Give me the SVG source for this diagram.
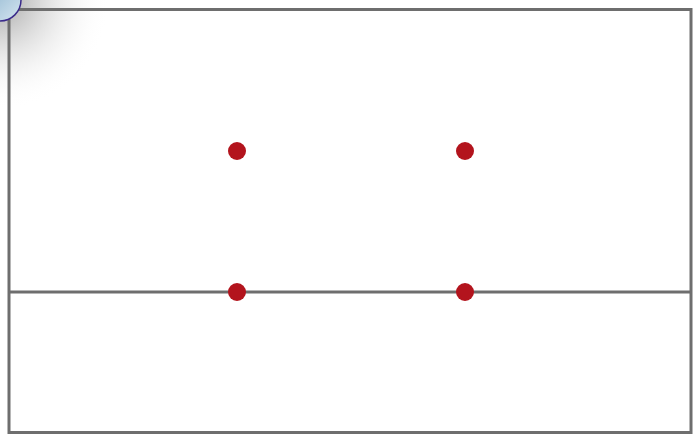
<svg xmlns="http://www.w3.org/2000/svg" width="693" height="435" viewBox="0 0 693 435">
  <defs>
    <radialGradient id="shade" cx="0" cy="0" r="1" gradientUnits="userSpaceOnUse" gradientTransform="translate(0 0) scale(110 110)">
      <stop offset="0" stop-color="#9a9a9a" stop-opacity="0.9"/>
      <stop offset="0.45" stop-color="#d0d0d0" stop-opacity="0.6"/>
      <stop offset="1" stop-color="#ffffff" stop-opacity="0"/>
    </radialGradient>
    <linearGradient id="curl" x1="0" y1="0" x2="1" y2="1">
      <stop offset="0" stop-color="#aac8dc"/>
      <stop offset="1" stop-color="#d6e6f0"/>
    </linearGradient>
  </defs>
  <style>
    .frame { fill: none; stroke: #6e6e6e; stroke-width: 3; }
    .line { stroke: #6e6e6e; stroke-width: 3; }
    .dot { fill: #b3141d; }
  </style>
  <rect width="693" height="435" fill="#ffffff"/>
  <rect x="0" y="0" width="130" height="130" fill="url(#shade)"/>
  <g id="frame">
    <rect class="frame" x="9" y="9.5" width="682" height="423"/>
  </g>
  <g id="connectors">
    <line class="line" x1="9" y1="292" x2="691" y2="292"/>
  </g>
  <g id="curl-corner">
    <path d="M0 0 L21 0 A21 21 0 0 1 0 21 Z" fill="url(#curl)"/>
    <path d="M21 0 A21 21 0 0 1 0 21" fill="none" stroke="#3a2a8a" stroke-width="1.5"/>
  </g>
  <g id="dot-top-left"><circle class="dot" cx="237" cy="151" r="9"/></g>
  <g id="dot-top-right"><circle class="dot" cx="465" cy="151" r="9"/></g>
  <g id="dot-bottom-left"><circle class="dot" cx="237" cy="292" r="9"/></g>
  <g id="dot-bottom-right"><circle class="dot" cx="465" cy="292" r="9"/></g>
</svg>
